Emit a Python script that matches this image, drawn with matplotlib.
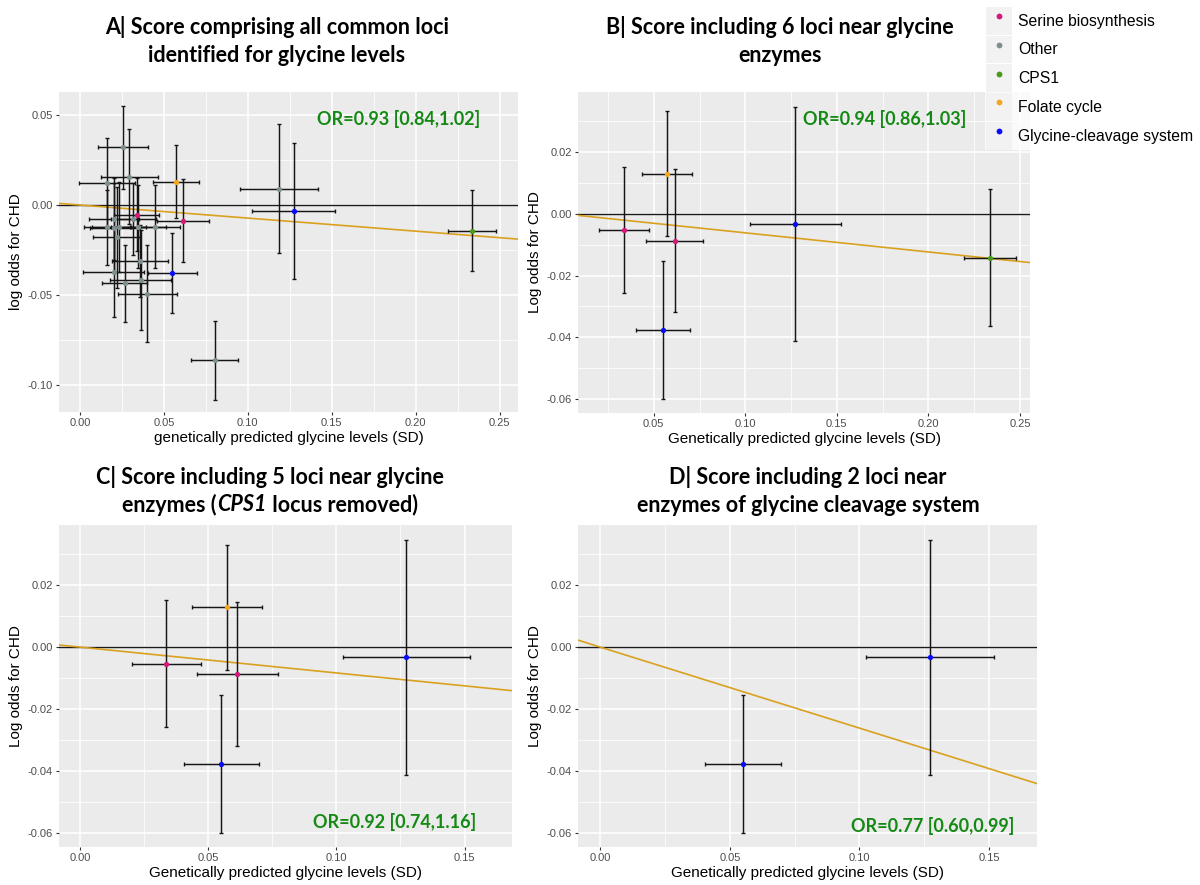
import numpy as np
import matplotlib
matplotlib.use("Agg")
import matplotlib.pyplot as plt
from matplotlib.lines import Line2D
from matplotlib.patches import Patch
from matplotlib.ticker import MultipleLocator, FormatStrFormatter

plt.rcParams['font.family'] = ['Liberation Sans', 'DejaVu Sans']

# ---- per-locus estimates: glycine effect (SD) and CHD log odds, with half-widths of the 95% CI
locus_group = [
    "Serine biosynthesis", "Folate cycle", "Serine biosynthesis",
    "Glycine-cleavage system", "Glycine-cleavage system", "CPS1",
    "Other", "Other", "Other", "Other", "Other", "Other", "Other", "Other", "Other",
    "Other", "Other", "Other", "Other", "Other", "Other", "Other", "Other", "Other",
]
gly_sd = [
    0.0337, 0.0574, 0.0614, 0.0551, 0.1273, 0.2337,
    0.0256, 0.0294, 0.0160, 0.0204, 0.0317, 0.0163, 0.0204, 0.0234, 0.0347,
    0.0446, 0.0220, 0.0357, 0.0200, 0.0362, 0.0266, 0.0400, 0.0802, 0.1186,
]
gly_sd_ci = [
    0.0135, 0.0137, 0.0157, 0.0146, 0.0248, 0.0144,
    0.0147, 0.0168, 0.0166, 0.0150, 0.0135, 0.0140, 0.0143, 0.0160, 0.0163,
    0.0150, 0.0140, 0.0168, 0.0180, 0.0183, 0.0134, 0.0176, 0.0141, 0.0234,
]
chd_logodds = [
    -0.0053, 0.0129, -0.0087, -0.0376, -0.0033, -0.0142,
    0.0320, 0.0157, 0.0120, -0.0078, -0.0078, -0.0124, -0.0130, -0.0120, -0.0120,
    -0.0120, -0.0180, -0.0310, -0.0374, -0.0417, -0.0435, -0.0493, -0.0862, 0.0090,
]
chd_logodds_ci = [
    0.0205, 0.0202, 0.0232, 0.0223, 0.0380, 0.0223,
    0.0231, 0.0263, 0.0250, 0.0230, 0.0200, 0.0210, 0.0250, 0.0250, 0.0230,
    0.0230, 0.0280, 0.0200, 0.0250, 0.0280, 0.0213, 0.0270, 0.0219, 0.0358,
]

legend_groups = ["Serine biosynthesis", "Other", "CPS1", "Folate cycle",
                 "Glycine-cleavage system"]
group_colors = {
    "Serine biosynthesis": "#D6177B",
    "Other": "#7F8F8F",
    "CPS1": "#4C9A1A",
    "Folate cycle": "#F3A51B",
    "Glycine-cleavage system": "#0A0AFF",
}

# ---- causal estimates per score (odds ratio and 95% CI)
panel_or = [0.93, 0.94, 0.92, 0.77]
panel_or_lo = [0.84, 0.86, 0.74, 0.60]
panel_or_hi = [1.02, 1.03, 1.16, 0.99]
# each title line is a list of (text, italic) pieces
panel_titles = [
    [[("A| Score comprising all common loci", False)],
     [("identified for glycine levels", False)]],
    [[("B| Score including 6 loci near glycine", False)],
     [("enzymes", False)]],
    [[("C| Score including 5 loci near glycine", False)],
     [("enzymes (", False), ("CPS1", True), (" locus removed)", False)]],
    [[("D| Score including 2 loci near", False)],
     [("enzymes of glycine cleavage system", False)]],
]
panel_groups = [
    legend_groups,
    ["Serine biosynthesis", "CPS1", "Folate cycle", "Glycine-cleavage system"],
    ["Serine biosynthesis", "Folate cycle", "Glycine-cleavage system"],
    ["Glycine-cleavage system"],
]
x_labels = ["genetically predicted glycine levels (SD)"] + \
           ["Genetically predicted glycine levels (SD)"] * 3
y_labels = ["log odds for CHD"] + ["Log odds for CHD"] * 3

W, H = 1200, 885
fig = plt.figure(figsize=(W / 100, H / 100), dpi=100)
fig.patch.set_facecolor("white")


def px_axes(left, top, right, bottom):
    return fig.add_axes([left / W, 1 - bottom / H, (right - left) / W, (bottom - top) / H])


axes = [
    px_axes(59, 92, 518, 412),
    px_axes(578, 92, 1030, 413),
    px_axes(59, 525, 512, 847),
    px_axes(578, 525, 1037, 847),
]
xlims = [(-0.0125, 0.261), (0.0086, 0.2555), (-0.0082, 0.1685), (-0.0086, 0.1685)]
ylims = [(-0.115, 0.0628), (-0.0645, 0.0394), (-0.0645, 0.0394), (-0.0645, 0.0394)]
x_major = [0.05, 0.05, 0.05, 0.05]
y_major = [0.05, 0.02, 0.02, 0.02]
or_pos = [(0.741, 0.916), (0.679, 0.916), (0.74, 0.079), (0.773, 0.065)]
title_centers = [277, 780, 270, 808]
title_rows = [(27, 55), (27, 55), (477, 505), (477, 505)]
title_style = dict(fontsize=15.5, fontfamily="Lato", fontweight="bold", color="black",
                   va="center", ha="left")

groups_arr = np.array(locus_group)
title_lines = []
for k, ax in enumerate(axes):
    idx = np.where(np.isin(groups_arr, panel_groups[k]))[0]

    ax.set_facecolor("#EBEBEB")
    for s in ax.spines.values():
        s.set_visible(False)
    ax.xaxis.set_major_locator(MultipleLocator(x_major[k]))
    ax.xaxis.set_minor_locator(MultipleLocator(x_major[k] / 2))
    ax.yaxis.set_major_locator(MultipleLocator(y_major[k]))
    ax.yaxis.set_minor_locator(MultipleLocator(y_major[k] / 2))
    ax.grid(which="major", color="white", lw=1.1)
    ax.grid(which="minor", color="white", lw=0.55)
    ax.set_axisbelow(True)
    ax.tick_params(which="major", length=2.5, width=0.8, color="#333333",
                   labelsize=8, labelcolor="#4D4D4D", pad=2)
    ax.tick_params(which="minor", length=0)
    ax.xaxis.set_major_formatter(FormatStrFormatter("%.2f"))
    ax.yaxis.set_major_formatter(FormatStrFormatter("%.2f"))

    ax.axhline(0, color="#1A1A1A", lw=1.0, zorder=2)
    ax.axline((0, 0), slope=np.log(panel_or[k]), color="#D9A11E", lw=1.2, zorder=2)

    for i in idx:
        ax.errorbar(gly_sd[i], chd_logodds[i],
                    xerr=gly_sd_ci[i], yerr=chd_logodds_ci[i],
                    fmt="none", ecolor="#151515", elinewidth=1.05,
                    capsize=1.5, capthick=1.0, zorder=3)
    for i in idx:
        ax.plot(gly_sd[i], chd_logodds[i], "o", ms=3.8,
                color=group_colors[locus_group[i]], mec="none", zorder=4)

    ax.set_xlim(*xlims[k])
    ax.set_ylim(*ylims[k])
    ax.set_xlabel(x_labels[k], fontsize=11, color="black", labelpad=2)
    ax.set_ylabel(y_labels[k], fontsize=11, color="black", labelpad=3)

    ax.text(*or_pos[k],
            f"OR={panel_or[k]:.2f} [{panel_or_lo[k]:.2f},{panel_or_hi[k]:.2f}]",
            transform=ax.transAxes, ha="center", va="center",
            fontsize=13, fontfamily="Lato", fontweight="bold", color="#148A14")

    for pieces, ypx in zip(panel_titles[k], title_rows[k]):
        texts = [fig.text(0, 1 - ypx / H, s,
                          fontstyle="italic" if it else "normal", **title_style)
                 for s, it in pieces]
        title_lines.append((title_centers[k], texts))

# centre each (possibly mixed-style) title line on its panel
fig.canvas.draw()
renderer = fig.canvas.get_renderer()
for cx, texts in title_lines:
    widths = [t.get_window_extent(renderer).width for t in texts]
    x = cx - sum(widths) / 2
    for t, w in zip(texts, widths):
        t.set_x(x / W)
        x += w

# legend with grey key boxes
handles = [(Patch(facecolor="#F2F2F2", edgecolor="none"),
            Line2D([], [], marker="o", ls="", ms=4.2, color=group_colors[g], mec="none"))
           for g in legend_groups]
leg = fig.legend(handles, legend_groups, loc="upper left",
                 bbox_to_anchor=(985 / W, 1 - 6 / H), frameon=True,
                 fontsize=11.3, handlelength=1.7, handleheight=2.35,
                 handletextpad=0.35, labelspacing=0.06, borderpad=0.05,
                 borderaxespad=0)
leg.get_frame().set_facecolor("white")
leg.get_frame().set_edgecolor("none")
leg.get_frame().set_boxstyle("square", pad=0)

fig.savefig("out.png", dpi=100, facecolor="white")
